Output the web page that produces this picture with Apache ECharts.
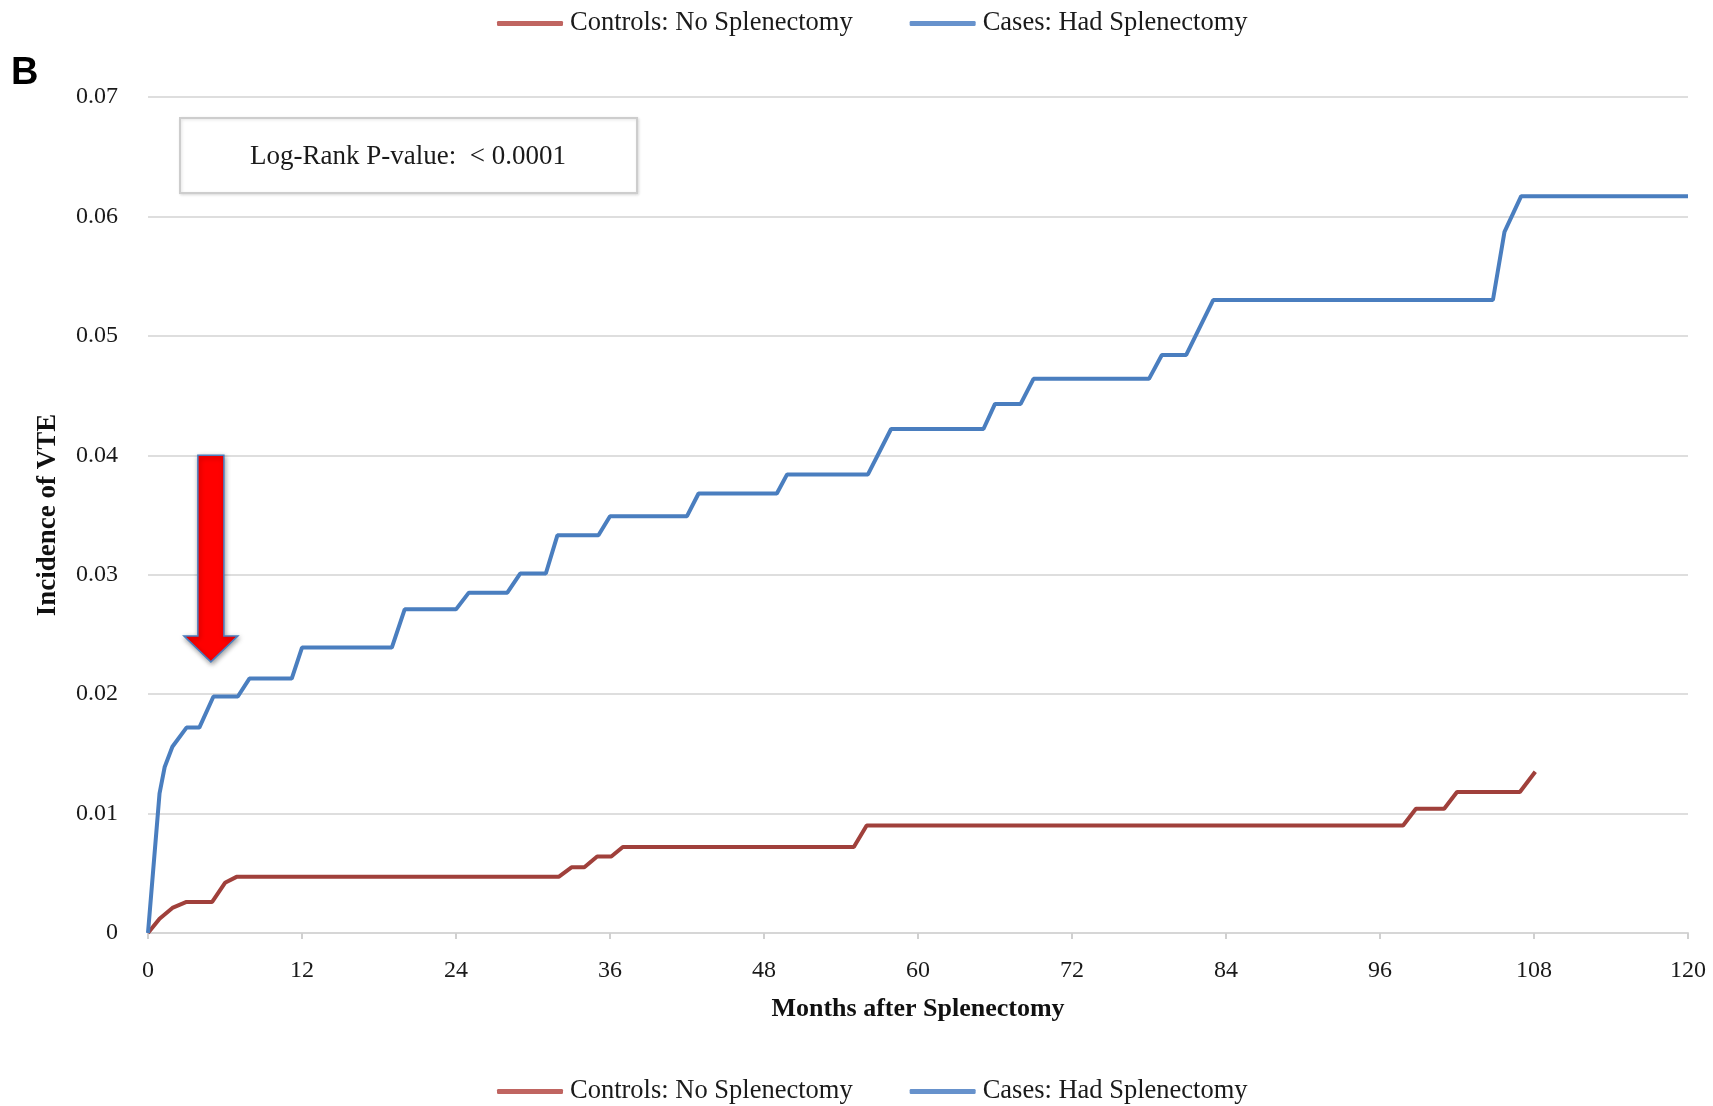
<!DOCTYPE html>
<html>
<head>
<meta charset="utf-8">
<title>Incidence of VTE after splenectomy</title>
<script src="https://cdn.jsdelivr.net/npm/echarts@6/dist/echarts.min.js"></script>
<style>
  html, body { margin: 0; padding: 0; background: #ffffff; }
  #chart { width: 1713px; height: 1106px; }
</style>
</head>
<body>
<div id="chart"></div>
<script>
// Cumulative incidence of VTE (months after splenectomy)
const seriesNames = ['Controls: No Splenectomy', 'Cases: Had Splenectomy'];

const controlMonths = [0, 0.9, 1.9, 3.0, 5.0, 6.0, 6.9, 32.0, 33.0, 34.0, 35.0, 36.1, 37.0, 55.0, 56.0, 97.8, 98.8, 101.0, 102.0, 106.9, 108.1];
const controlValues = [0, 0.0012, 0.0021, 0.0026, 0.0026, 0.0042, 0.0047, 0.0047, 0.0055, 0.0055, 0.0064, 0.0064, 0.0072, 0.0072, 0.0090, 0.0090, 0.0104, 0.0104, 0.0118, 0.0118, 0.0135];

const caseMonths = [0, 0.9, 1.3, 1.9, 3.0, 4.0, 5.1, 7.0, 7.9, 11.2, 12.0, 19.0, 20.0, 24.0, 25.0, 28.0, 29.0, 31.0, 31.9, 35.1, 36.0, 42.0, 42.9, 49.0, 49.8, 56.1, 57.9, 65.1, 66.0, 68.0, 69.0, 78.0, 79.0, 80.9, 83.0, 104.8, 105.7, 107.0, 120];
const caseValues = [0, 0.0117, 0.0139, 0.0156, 0.0172, 0.0172, 0.0198, 0.0198, 0.0213, 0.0213, 0.0239, 0.0239, 0.0271, 0.0271, 0.0285, 0.0285, 0.0301, 0.0301, 0.0333, 0.0333, 0.0349, 0.0349, 0.0368, 0.0368, 0.0384, 0.0384, 0.0422, 0.0422, 0.0443, 0.0443, 0.0464, 0.0464, 0.0484, 0.0484, 0.0530, 0.0530, 0.0587, 0.0617, 0.0617];

const xTickLabels = ['0', '12', '24', '36', '48', '60', '72', '84', '96', '108', '120'];
const yTickLabels = ['0', '0.01', '0.02', '0.03', '0.04', '0.05', '0.06', '0.07'];

const pValueText = 'Log-Rank P-value:  < 0.0001';
const panelLetter = 'B';

// annotation arrow, in data units (month, incidence)
const arrowMonth = 4.9;
const arrowTop = 0.040;
const arrowTip = 0.0227;

const SERIF = '"Liberation Serif", "Times New Roman", serif';
const RED = '#a0403b';
const BLUE = '#4a7ebf';

function pairs(xs, ys) {
  return xs.map((x, i) => [x, ys[i]]);
}

const legendBase = {
  data: [
    { name: seriesNames[0], itemStyle: { color: '#c06561' } },
    { name: seriesNames[1], itemStyle: { color: '#6792cc' } }
  ],
  icon: 'roundRect',
  itemWidth: 66,
  itemHeight: 5,
  itemGap: 57,
  padding: 0,
  left: 497,
  textStyle: { fontFamily: SERIF, fontSize: 26.5, color: '#1a1a1a', padding: [0, 0, 0, 2] }
};

const chart = echarts.init(document.getElementById('chart'), null, { renderer: 'canvas' });

chart.setOption({
  backgroundColor: '#ffffff',
  animation: false,
  legend: [
    Object.assign({}, legendBase, { top: 10 }),
    Object.assign({}, legendBase, { top: 1078 })
  ],
  grid: { left: 148, right: 25, top: 97, bottom: 173, containLabel: false },
  xAxis: {
    type: 'value',
    min: 0,
    max: 120,
    interval: 12,
    name: 'Months after Splenectomy',
    nameLocation: 'middle',
    nameGap: 63,
    nameTextStyle: { fontFamily: SERIF, fontSize: 26, fontWeight: 'bold', color: '#111' },
    axisLine: { show: true, lineStyle: { color: '#d6d6d6', width: 2 } },
    axisTick: { show: true, length: 6, lineStyle: { color: '#d0d0d0', width: 2 } },
    axisLabel: {
      fontFamily: SERIF, fontSize: 24, color: '#1a1a1a', margin: 26,
      formatter: v => xTickLabels[Math.round(v / 12)]
    },
    splitLine: { show: false }
  },
  yAxis: {
    type: 'value',
    min: 0,
    max: 0.07,
    interval: 0.01,
    name: 'Incidence of VTE',
    nameLocation: 'middle',
    nameGap: 86,
    nameRotate: 90,
    nameTextStyle: { fontFamily: SERIF, fontSize: 27, fontWeight: 'bold', color: '#111' },
    axisLine: { show: false },
    axisTick: { show: false },
    axisLabel: {
      fontFamily: SERIF, fontSize: 24, color: '#1a1a1a', margin: 30,
      formatter: v => yTickLabels[Math.round(v / 0.01)]
    },
    splitLine: { show: true, lineStyle: { color: '#dedede', width: 2 } }
  },
  series: [
    {
      name: seriesNames[0],
      type: 'line',
      data: pairs(controlMonths, controlValues),
      showSymbol: false,
      symbol: 'none',
      color: RED,
      lineStyle: { color: RED, width: 4 },
      z: 2
    },
    {
      name: seriesNames[1],
      type: 'line',
      data: pairs(caseMonths, caseValues),
      showSymbol: false,
      symbol: 'none',
      color: BLUE,
      lineStyle: { color: BLUE, width: 4 },
      z: 3
    }
  ]
});

// arrow geometry follows the data coordinate system
const tipPx = chart.convertToPixel({ gridIndex: 0 }, [arrowMonth, arrowTip]);
const topPx = chart.convertToPixel({ gridIndex: 0 }, [arrowMonth, arrowTop]);
const cx = tipPx[0];
const shaftHalf = 13;
const headHalf = 27;
const headLen = 26;
const arrowPoints = [
  [cx - shaftHalf, topPx[1]],
  [cx + shaftHalf, topPx[1]],
  [cx + shaftHalf, tipPx[1] - headLen],
  [cx + headHalf, tipPx[1] - headLen],
  [cx, tipPx[1]],
  [cx - headHalf, tipPx[1] - headLen],
  [cx - shaftHalf, tipPx[1] - headLen]
];

chart.setOption({
  graphic: [
    {
      type: 'text',
      left: 11,
      top: 55,
      style: {
        text: panelLetter,
        font: 'bold 38px "Liberation Sans", Arial, sans-serif',
        fill: '#000000'
      }
    },
    {
      type: 'rect',
      shape: { x: 180, y: 118, width: 457, height: 75 },
      style: {
        fill: '#ffffff',
        stroke: '#cdcdcd',
        lineWidth: 2,
        shadowBlur: 3,
        shadowColor: 'rgba(0,0,0,0.12)',
        shadowOffsetX: 1,
        shadowOffsetY: 1
      },
      z: 10
    },
    {
      type: 'text',
      x: 408,
      y: 157,
      style: {
        text: pValueText,
        font: '27px "Liberation Serif", "Times New Roman", serif',
        fill: '#1a1a1a',
        align: 'center',
        verticalAlign: 'middle'
      },
      z: 11
    },
    {
      type: 'polygon',
      shape: { points: arrowPoints },
      style: {
        fill: '#ff0000',
        stroke: '#4a7ebf',
        lineWidth: 1.5,
        shadowBlur: 5,
        shadowColor: 'rgba(0,0,0,0.35)',
        shadowOffsetX: 1,
        shadowOffsetY: 2
      },
      z: 12
    }
  ]
});
</script>
</body>
</html>
